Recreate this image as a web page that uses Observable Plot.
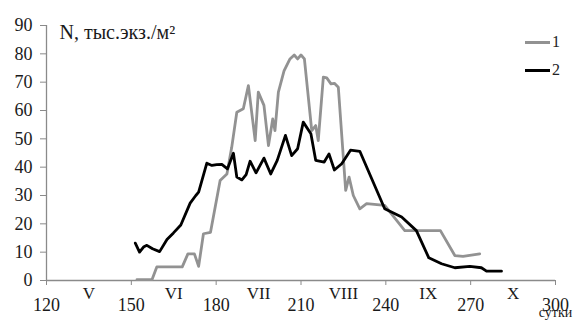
<!DOCTYPE html>
<html>
<head>
<meta charset="utf-8">
<script src="https://cdn.jsdelivr.net/npm/d3@7"></script>
<script src="https://cdn.jsdelivr.net/npm/@observablehq/plot@0.6"></script>
<style>
  body { margin: 0; background: #fff; }
  #wrap { position: relative; width: 574px; height: 320px; overflow: hidden; font-family: "Liberation Serif", "Times New Roman", serif; }
  #chart svg, #chart svg text { font-family: "Liberation Serif", "Times New Roman", serif !important; }
  #legend { position: absolute; left: 525px; top: 28px; font-size: 16px; color: #222; line-height: 28px; }
  #legend div { display: flex; align-items: center; }
  #legend span.sw { display: inline-block; width: 25px; height: 3px; margin-right: 2px; }
</style>
</head>
<body>
<div id="wrap">
  <div id="chart"></div>
  <div id="legend"></div>
</div>
<script>
// Series 1 (gray): day of year, N (thousand ind./m²)
const days1 = [152, 157.3, 159, 168, 170, 172.3, 173.8, 175.5, 178, 181.4, 183.8, 185.5, 187.3, 189.6, 191.4, 193.8, 194.9, 196.9, 198.5, 200, 200.8, 202, 204, 206.1, 207.6, 208.8, 210, 211.2, 213.8, 215.2, 216.1, 217.9, 219.1, 220.6, 221.8, 223.2, 225.8, 227, 228.5, 230.8, 233.2, 239.6, 246.7, 259.3, 264.4, 267.3, 273.2];
const vals1 = [0.3, 0.3, 4.8, 4.8, 9.4, 9.4, 5, 16.5, 17, 35.3, 37.6, 47, 59.4, 60.6, 68.8, 49.4, 66.5, 61.8, 47.6, 57, 52.9, 66.5, 74, 78.2, 79.6, 78.2, 79.6, 78.2, 52.9, 54.7, 49.4, 71.8, 71.5, 69.4, 69.6, 68.2, 31.8, 36.5, 30, 25.3, 27.1, 26.5, 17.6, 17.6, 8.8, 8.5, 9.4];
// Series 2 (black)
const days2 = [151.4, 152.9, 154.3, 155.5, 157.5, 160, 162.6, 164.9, 167.5, 170.8, 172.8, 173.8, 176.7, 178.5, 180.2, 182, 184, 186.1, 187.3, 189.1, 190.6, 192, 194.1, 196.9, 199.3, 201.6, 204.5, 206.7, 208.8, 210.8, 213.5, 215.2, 218.2, 219.9, 221.8, 224.4, 227.5, 230.8, 239.6, 245.6, 250.8, 255.2, 259.7, 264.4, 269.7, 273.8, 275.6, 280.9];
const vals2 = [13.2, 10, 11.8, 12.4, 11.2, 10.2, 14.5, 16.8, 19.6, 27.3, 30, 31.2, 41.4, 40.6, 40.9, 41, 39.4, 44.9, 36.5, 35.5, 37.4, 42.1, 38, 43.2, 37.6, 42.4, 51.2, 44.1, 46.5, 55.9, 51.8, 42.4, 41.8, 44.7, 39, 41.2, 46, 45.6, 25.3, 22.4, 17.6, 8, 5.9, 4.5, 5, 4.5, 3.3, 3.3];

const xTicks = [120, 150, 180, 210, 240, 270, 300];
const yTicks = [0, 10, 20, 30, 40, 50, 60, 70, 80, 90];
const months = ["V", "VI", "VII", "VIII", "IX", "X"];
const monthCenters = [135, 165, 195, 225, 255, 285];
const seriesNames = ["1", "2"];
const seriesColors = ["#929292", "#000000"];
const yLabel = "N, тыс.экз./м²";
const xUnit = "сутки";

const s1 = days1.map((d, i) => ({day: d, n: vals1[i]}));
const s2 = days2.map((d, i) => ({day: d, n: vals2[i]}));

const axisGray = "#8a8a8a";
const textCol = "#1a1a1a";
const serif = "Liberation Serif";

const chart = Plot.plot({
  width: 574,
  height: 320,
  marginLeft: 46,
  marginRight: 19,
  marginTop: 25,
  marginBottom: 40,
  style: {fontFamily: serif, background: "#fff", overflow: "visible"},
  x: {domain: [120, 300]},
  y: {domain: [0, 90]},
  marks: [
    Plot.axisY({ticks: yTicks, tickSize: 6, tickPadding: 8, fontSize: 18, fontFamily: serif, stroke: axisGray, fill: textCol, label: null}),
    Plot.axisX({ticks: xTicks, tickSize: 5, tickPadding: 13, fontSize: 18, fontFamily: serif, stroke: axisGray, fill: textCol, label: null}),
    Plot.ruleX([120], {stroke: axisGray, strokeWidth: 1.3}),
    Plot.ruleY([0], {stroke: axisGray, strokeWidth: 1.3}),
    Plot.text(months, {x: (d, i) => monthCenters[i], y: () => 0, dy: 13, fontSize: 17, fontFamily: serif, fill: textCol}),
    Plot.text([yLabel], {frameAnchor: "top-left", dx: 13, dy: -1, textAnchor: "start", fontSize: 20, fontFamily: serif, fill: textCol}),
    Plot.text([xUnit], {frameAnchor: "bottom-right", textAnchor: "middle", dx: 0, dy: 36, fontSize: 14, fontFamily: serif, fill: textCol}),
    Plot.line(s1, {x: "day", y: "n", stroke: seriesColors[0], strokeWidth: 2.8, strokeLinejoin: "round"}),
    Plot.line(s2, {x: "day", y: "n", stroke: seriesColors[1], strokeWidth: 2.8, strokeLinejoin: "round"})
  ]
});
document.getElementById("chart").appendChild(chart);

const legend = document.getElementById("legend");
seriesNames.forEach((name, i) => {
  const row = document.createElement("div");
  const sw = document.createElement("span");
  sw.className = "sw";
  sw.style.background = seriesColors[i];
  row.appendChild(sw);
  row.appendChild(document.createTextNode(name));
  legend.appendChild(row);
});
</script>
</body>
</html>
